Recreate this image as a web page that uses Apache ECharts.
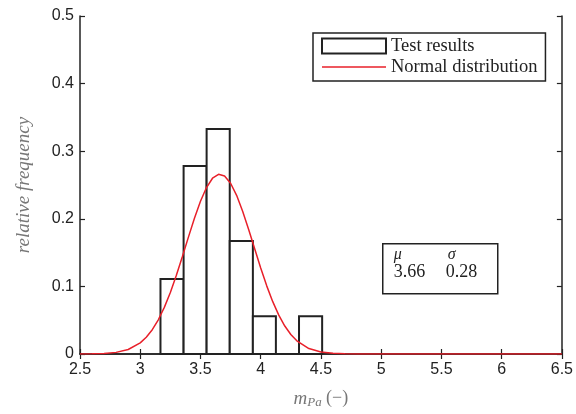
<!DOCTYPE html>
<html>
<head>
<meta charset="utf-8">
<script src="https://cdn.jsdelivr.net/npm/echarts@6/dist/echarts.min.js"></script>
<style>
  html, body { margin: 0; padding: 0; background: #fff; }
  #chart { width: 576px; height: 414px; }
</style>
</head>
<body>
<div id="chart"></div>
<script>
// Histogram bins (left/right edges) and relative frequencies
const binLeft  = [3.168, 3.36, 3.551, 3.743, 3.935, 4.126, 4.318];
const binRight = [3.36, 3.551, 3.743, 3.935, 4.126, 4.318, 4.51];
const relFreq  = [0.111, 0.278, 0.333, 0.167, 0.056, 0, 0.056];

// Fitted normal curve, sampled
const curveX = [2.5, 2.6, 2.7, 2.8, 2.9, 3.0, 3.05, 3.1, 3.15, 3.2, 3.25, 3.3, 3.35, 3.4, 3.45,
  3.5, 3.55, 3.6, 3.65, 3.7, 3.75, 3.8, 3.85, 3.9, 3.95, 4.0, 4.05, 4.1, 4.15, 4.2, 4.25,
  4.3, 4.4, 4.5, 4.6, 4.7, 4.8, 5.0, 6.5];
const curveY = [0.0000, 0.0002, 0.0007, 0.0024, 0.0067, 0.0165, 0.0248, 0.0360, 0.0506, 0.0690,
  0.0911, 0.1164, 0.1441, 0.1729, 0.2008, 0.2259, 0.2462, 0.2600, 0.2658, 0.2633, 0.2526,
  0.2347, 0.2113, 0.1842, 0.1556, 0.1273, 0.1008, 0.0774, 0.0575, 0.0414, 0.0289, 0.0195,
  0.0081, 0.0030, 0.0010, 0.0003, 0.0001, 0.0000, 0.0000];

// Distribution parameters
const muValue = '3.66';
const sigmaValue = '0.28';

// Axis ranges
const xMin = 2.5, xMax = 6.5, xStep = 0.5;
const yMin = 0, yMax = 0.5, yStep = 0.1;

const serif = '"Liberation Serif", "Times New Roman", serif';
const sans = '"Liberation Sans", Arial, sans-serif';
const ink = '#222';
const red = '#e8202a';

const barData = binLeft.map((l, i) => [l, binRight[i], relFreq[i]]);
const curveData = curveX.map((x, i) => [x, curveY[i]]);

const chart = echarts.init(document.getElementById('chart'), null, { renderer: 'canvas' });

const frameAxis = {
  axisLine: { show: true, lineStyle: { color: ink, width: 1.5 } },
  axisTick: { show: true, inside: true, length: 5, lineStyle: { color: ink, width: 1.2 } },
  splitLine: { show: false }
};

chart.setOption({
  animation: false,
  backgroundColor: '#fff',
  grid: { left: 80, right: 13, top: 16, bottom: 57, containLabel: false },
  xAxis: [
    Object.assign({
      type: 'value', min: xMin, max: xMax, interval: xStep, position: 'bottom',
      axisLabel: { color: ink, fontFamily: sans, fontSize: 16, margin: 8 },
      name: '{m|m}{s|Pa} {n|(−)}',
      nameLocation: 'middle', nameGap: 34,
      nameTextStyle: {
        rich: {
          m: { fontFamily: serif, fontStyle: 'italic', fontSize: 19, color: '#777' },
          s: { fontFamily: serif, fontStyle: 'italic', fontSize: 13, color: '#777', verticalAlign: 'bottom', padding: [8, 1, 0, 0] },
          n: { fontFamily: serif, fontSize: 18, color: '#777' }
        }
      }
    }, frameAxis),
    Object.assign({
      type: 'value', min: xMin, max: xMax, interval: xStep, position: 'top',
      axisLabel: { show: false }
    }, frameAxis)
  ],
  yAxis: [
    Object.assign({
      type: 'value', min: yMin, max: yMax, interval: yStep, position: 'left',
      axisLabel: { color: ink, fontFamily: sans, fontSize: 16, margin: 6 },
      name: 'relative frequency',
      nameLocation: 'middle', nameGap: 47,
      nameTextStyle: { fontFamily: serif, fontStyle: 'italic', fontSize: 19, color: '#777' }
    }, frameAxis),
    Object.assign({
      type: 'value', min: yMin, max: yMax, interval: yStep, position: 'right',
      axisLabel: { show: false }
    }, frameAxis)
  ],
  legend: {
    orient: 'vertical',
    left: 313, top: 33,
    padding: [3, 8, 4, 8],
    itemGap: 1,
    itemWidth: 64, itemHeight: 15,
    borderColor: ink, borderWidth: 1.5, backgroundColor: '#fff',
    textStyle: { fontFamily: serif, fontSize: 18.5, lineHeight: 20, color: ink },
    data: [
      { name: 'Test results', icon: 'rect', itemStyle: { color: '#fff', borderColor: ink, borderWidth: 2 } },
      { name: 'Normal distribution', itemStyle: { opacity: 0 }, lineStyle: { color: red, width: 1.5 } }
    ]
  },
  series: [
    {
      name: 'Test results',
      type: 'custom',
      z: 2,
      data: barData,
      encode: { x: [0, 1], y: 2 },
      renderItem: function (params, api) {
        const p0 = api.coord([api.value(0), 0]);
        const p1 = api.coord([api.value(1), api.value(2)]);
        return {
          type: 'rect',
          shape: { x: p0[0], y: p1[1], width: p1[0] - p0[0], height: p0[1] - p1[1] },
          style: { fill: '#fff', stroke: ink, lineWidth: 2 }
        };
      }
    },
    {
      name: 'Normal distribution',
      type: 'line',
      z: 3,
      data: curveData,
      symbol: 'none',
      smooth: false,
      lineStyle: { color: red, width: 1.5 },
      itemStyle: { color: red }
    }
  ],
  graphic: [
    {
      type: 'group', left: 382, top: 243,
      children: [
        { type: 'rect', shape: { x: 0, y: 0, width: 115, height: 50 }, style: { fill: '#fff', stroke: ink, lineWidth: 1.5 } },
        { type: 'text', x: 11, y: 3, style: { text: 'μ', font: 'italic 16px ' + serif, fill: ink } },
        { type: 'text', x: 65, y: 3, style: { text: 'σ', font: 'italic 16px ' + serif, fill: ink } },
        { type: 'text', x: 11, y: 20, style: { text: muValue, font: '18px ' + serif, fill: ink } },
        { type: 'text', x: 63, y: 20, style: { text: sigmaValue, font: '18px ' + serif, fill: ink } }
      ]
    }
  ]
});
</script>
</body>
</html>
